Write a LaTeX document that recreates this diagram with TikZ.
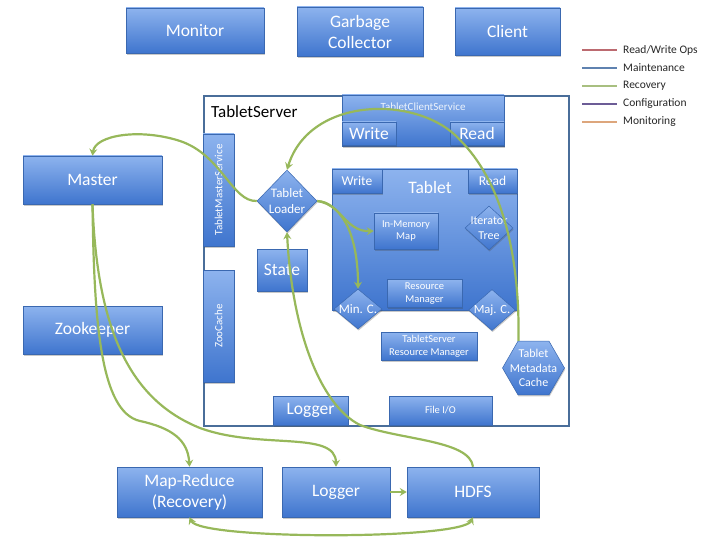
\documentclass[tikz,border=0pt]{standalone}
\usepackage{fontspec}
\setmainfont{Carlito}
\usetikzlibrary{shapes.geometric,arrows.meta,shadows,calc}

\definecolor{boxtop}{HTML}{8DB3EE}
\definecolor{boxbot}{HTML}{3F75CE}
\definecolor{boxline}{HTML}{3A68B0}
\definecolor{frameline}{HTML}{4A6E9A}
\definecolor{recov}{HTML}{97B85A}
\definecolor{lgrw}{HTML}{BC6A70}
\definecolor{lgmaint}{HTML}{5F82B0}
\definecolor{lgrecov}{HTML}{A8BF80}
\definecolor{lgconf}{HTML}{6C5C96}
\definecolor{lgmon}{HTML}{DDA67C}

\newcommand\sz[1]{\fontsize{#1}{1.2\dimexpr#1pt\relax}\selectfont}

\tikzset{
  box/.style={draw=boxline, line width=0.5pt, top color=boxtop, bottom color=boxbot,
    text=white, inner sep=0pt, align=center,
    drop shadow={shadow xshift=0.6pt, shadow yshift=-1.6pt, opacity=0.3, fill=black!70}},
  bigtext/.style={font=\sz{17.5}},
  dia/.style={box, shape=diamond, aspect=1},
  inlabel/.style={text=white, align=center, inner sep=0pt},
  flow/.style={draw=recov, line width=2.2pt,
    -{Stealth[length=7pt,width=8pt,inset=2.5pt]}},
  flowboth/.style={draw=recov, line width=2.2pt,
    {Stealth[length=7pt,width=8pt,inset=2.5pt]}-{Stealth[length=7pt,width=8pt,inset=2.5pt]}},
  swatch/.style={line width=2.6pt},
  legendtext/.style={anchor=west, font=\sz{11.5}, text=black!85, inner sep=0pt},
}

\begin{document}
\begin{tikzpicture}[x=1pt,y=-1pt]
\useasboundingbox (0,0) rectangle (720,540);

% top row
\node[box, bigtext, minimum width=138pt, minimum height=45pt] (monitor) at (195,30.5) {Monitor};
\node[box, bigtext, minimum width=126pt, minimum height=49pt] (gc) at (360,31.5) {Garbage\\Collector};
\node[box, bigtext, minimum width=105pt, minimum height=47pt] (client) at (507.5,31.5) {Client};

% legend
\foreach \y/\col/\txt/\nm in {50/lgrw/Read\slash Write Ops/lrw, 68/lgmaint/Maintenance/lmaint,
    86/lgrecov/Recovery/lrecov, 104/lgconf/Configuration/lconf, 122/lgmon/Monitoring/lmon}{
  \coordinate (\nm-a) at (582,\y);
  \coordinate (\nm-b) at (617,\y);
  \draw[swatch, \col] (\nm-a) -- (\nm-b);
  \node[legendtext] (\nm) at (623,\y) {\txt};
}

% left column
\node[box, bigtext, minimum width=139pt, minimum height=48pt] (master) at (92.5,180) {Master};
\node[box, bigtext, minimum width=139pt, minimum height=48pt] (zk) at (92.5,330) {Zookeeper};

% tablet server frame
\node[draw=frameline, line width=1.6pt, fill=white, minimum width=365pt, minimum height=330pt, inner sep=0pt] (ts) at (386.5,261) {};
\node[anchor=west, font=\sz{17}, inner sep=0pt] (tslabel) at (211,112) {TabletServer};

% client service
\node[box, minimum width=162pt, minimum height=51pt] (tcs) at (423,120.5) {};
\node[inlabel, font=\sz{11}, text=white!85!boxtop] (tcslabel) at (423,107) {TabletClientService};
\node[box, bigtext, minimum width=54pt, minimum height=23pt] (cswrite) at (369,133.5) {Write};
\node[box, bigtext, minimum width=54pt, minimum height=23pt] (csread) at (477,133.5) {Read};

% vertical services
\node[box, font=\sz{11}, rotate=90, minimum width=112pt, minimum height=31pt] (tms) at (218.5,190) {TabletMasterService};
\node[box, font=\sz{11}, rotate=90, minimum width=112pt, minimum height=31pt] (zc) at (218.5,326) {ZooCache};

% loader and state
\node[dia, minimum width=60pt, minimum height=62pt] (loader) at (287,201) {};
\node[inlabel, font=\sz{13}] (loadertext) at (loader) {Tablet\\Loader};
\node[box, bigtext, minimum width=50pt, minimum height=42pt] (state) at (282,270) {State};

% tablet
\node[box, minimum width=185pt, minimum height=141pt] (tablet) at (424.5,239.5) {};
\node[inlabel, font=\sz{17.5}] (tabletlabel) at (430,187) {Tablet};
\node[box, font=\sz{13.5}, minimum width=50pt, minimum height=24pt] (twrite) at (357,181) {Write};
\node[box, font=\sz{13.5}, minimum width=49pt, minimum height=24pt] (tread) at (492.5,181) {Read};
\node[box, font=\sz{10.5}, minimum width=64pt, minimum height=36pt] (imm) at (406,231) {In-Memory\\Map};
\node[dia, minimum width=48pt, minimum height=44pt] (itree) at (489,228) {};
\node[inlabel, font=\sz{12}] (itreetext) at (itree) {Iterator\\Tree};
\node[box, font=\sz{10.5}, minimum width=75pt, minimum height=28pt] (rm) at (424.5,293.5) {Resource\\Manager};
\node[dia, minimum width=48pt, minimum height=40pt] (minc) at (358,309) {};
\node[inlabel, font=\sz{13}] (minctext) at (minc) {Min. C.};
\node[dia, minimum width=47pt, minimum height=41pt] (majc) at (492,310) {};
\node[inlabel, font=\sz{12.5}] (majctext) at (majc) {Maj. C.};

% server-wide parts
\node[box, font=\sz{10.5}, minimum width=96pt, minimum height=28pt] (tsrm) at (429,346) {TabletServer\\Resource Manager};
\node[box, shape=regular polygon, regular polygon sides=6, minimum size=62pt] (tmc) at (533.5,368) {};
\node[inlabel, font=\sz{12}] (tmctext) at (tmc) {Tablet\\Metadata\\Cache};
\node[box, bigtext, minimum width=75pt, minimum height=29pt] (loggerin) at (310.5,410.5) {Logger};
\node[box, font=\sz{10.5}, minimum width=103pt, minimum height=29pt] (fileio) at (440.5,410.5) {File I/O};

% bottom row
\node[box, bigtext, minimum width=145pt, minimum height=50pt] (mr) at (189.5,492) {Map-Reduce\\(Recovery)};
\node[box, bigtext, minimum width=108pt, minimum height=50pt] (logger) at (336,492) {Logger};
\node[box, bigtext, minimum width=132pt, minimum height=50pt] (hdfs) at (473,492) {HDFS};

% recovery flows
\draw[flow] (loader.west) .. controls (232,202) and (222,155) .. (180,141)
  .. controls (140,128) and (95,135) .. (master.north);
\draw[flow] ($(tmc.north)+(-15,0)$) .. controls (520,250) and (500,180) .. (460,140)
  .. controls (420,95) and (310,95) .. (loader.north);
\draw[flow] (loader.east) .. controls (340,202) and (345,232) .. (imm.west);
\draw[flow] (loader.east) .. controls (345,205) and (358,240) .. (minc.north);
\draw[flow] (hdfs.north) .. controls (470,440) and (400,440) .. (360,425)
  .. controls (320,405) and (292,330) .. (loader.south);
\draw[flow] (master.south) .. controls (94,320) and (100,412) .. (140,421)
  .. controls (172,428) and (188,440) .. (mr.north);
\draw[flow] (master.south) .. controls (97,330) and (130,400) .. (200,428)
  .. controls (260,450) and (336,430) .. (logger.north);
\draw[flow] (logger.east) -- (hdfs.west);
\draw[flowboth] (mr.south) .. controls (200,540) and (462,540) .. (hdfs.south);

\end{tikzpicture}
\end{document}
